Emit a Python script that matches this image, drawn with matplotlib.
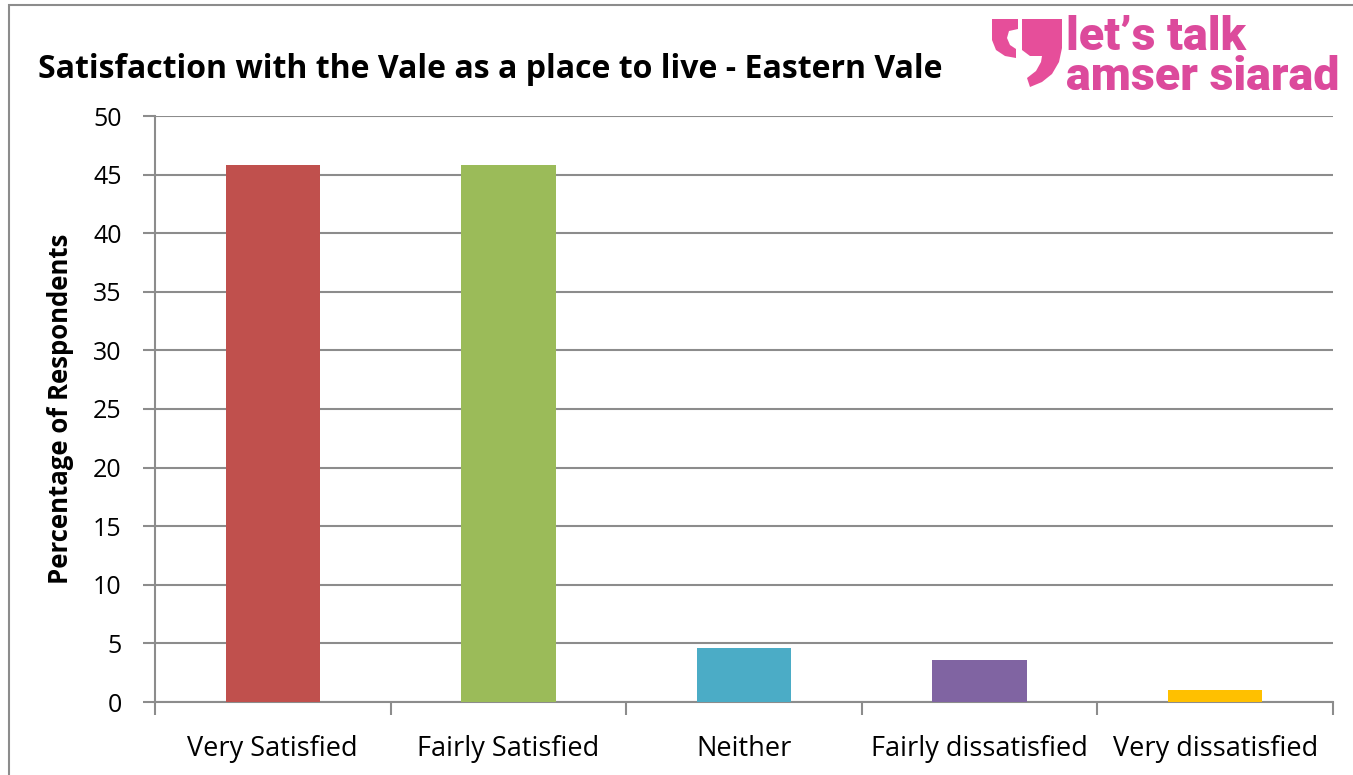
import matplotlib.pyplot as plt
from matplotlib.patches import Rectangle, Polygon

categories = ["Very Satisfied", "Fairly Satisfied", "Neither",
              "Fairly dissatisfied", "Very dissatisfied"]
values = [45.8, 45.8, 4.6, 3.55, 1.0]
colors = ["#c0504d", "#9bbb59", "#4bacc6", "#8064a2", "#ffc000"]
yticks = list(range(0, 51, 5))

W, H = 1353, 775
plt.rcParams["font.family"] = ["Open Sans", "DejaVu Sans"]

fig = plt.figure(figsize=(W / 100, H / 100), dpi=100)
ax = fig.add_axes([155 / W, 1 - 702 / H, (1333 - 155) / W, (702 - 116) / H])


def px(pts):
    return [(x / W, 1 - y / H) for x, y in pts]


# outer chart frame
fig.patches.append(Rectangle((9 / W, -0.01), 1.2, 1 - 5 / H + 0.01,
                             transform=fig.transFigure, fill=False,
                             ec="#8c8c8c", lw=1.5))

x = range(len(categories))
ax.bar(x, values, width=0.4, color=colors, zorder=3)

ax.set_xlim(-0.5, len(categories) - 0.5)
ax.set_ylim(0, 50)
ax.set_yticks(yticks)
ax.set_yticklabels([str(t) for t in yticks], fontsize=18)
ax.set_xticks(list(x))
ax.set_xticklabels(categories, fontsize=19.5)
ax.tick_params(axis="x", length=0, pad=24)
ax.set_xticks([i + 0.5 for i in range(-1, len(categories))], minor=True)
ax.tick_params(axis="x", which="minor", length=9, width=1.5, color="#8c8c8c", direction="out")
ax.tick_params(axis="y", length=9, width=1.5, color="#8c8c8c", direction="out", pad=15)

ax.grid(axis="y", color="#8c8c8c", lw=1.5, zorder=0)
for s in ("top", "right"):
    ax.spines[s].set_visible(False)
for s in ("left", "bottom"):
    ax.spines[s].set_color("#8c8c8c")
    ax.spines[s].set_linewidth(1.5)

ax.set_ylabel("Percentage of Respondents", fontsize=18.5, fontweight="bold", labelpad=14)

fig.text(38 / W, 1 - 70 / H, "Satisfaction with the Vale as a place to live - Eastern Vale",
         fontsize=23, fontweight="bold", va="center", ha="left")

# logo
pink = "#dc4a9c"
fig.text(1066 / W, 1 - 57 / H, "let\u2019s talk\namser siarad", fontsize=33.5,
         fontweight="black", color=pink, va="center", ha="left", linespacing=0.9,
         family=["Roboto", "DejaVu Sans"])
left_mark = [(992, 19), (1018, 19), (1018, 29), (1009, 31), (1007, 38), (1010, 45),
             (1016, 49), (1016, 58), (1005, 56), (996, 50), (992, 40)]
right_mark = [(1022, 19), (1062, 19), (1062, 48), (1059, 62), (1052, 74), (1042, 82),
              (1030, 87), (1027, 78), (1036, 71), (1041, 62), (1042, 56), (1030, 56),
              (1022, 50)]
for pts in (left_mark, right_mark):
    fig.patches.append(Polygon(px(pts), closed=True, transform=fig.transFigure,
                               fc="#e64e9a", ec="none"))

fig.savefig("out.png", dpi=100)
